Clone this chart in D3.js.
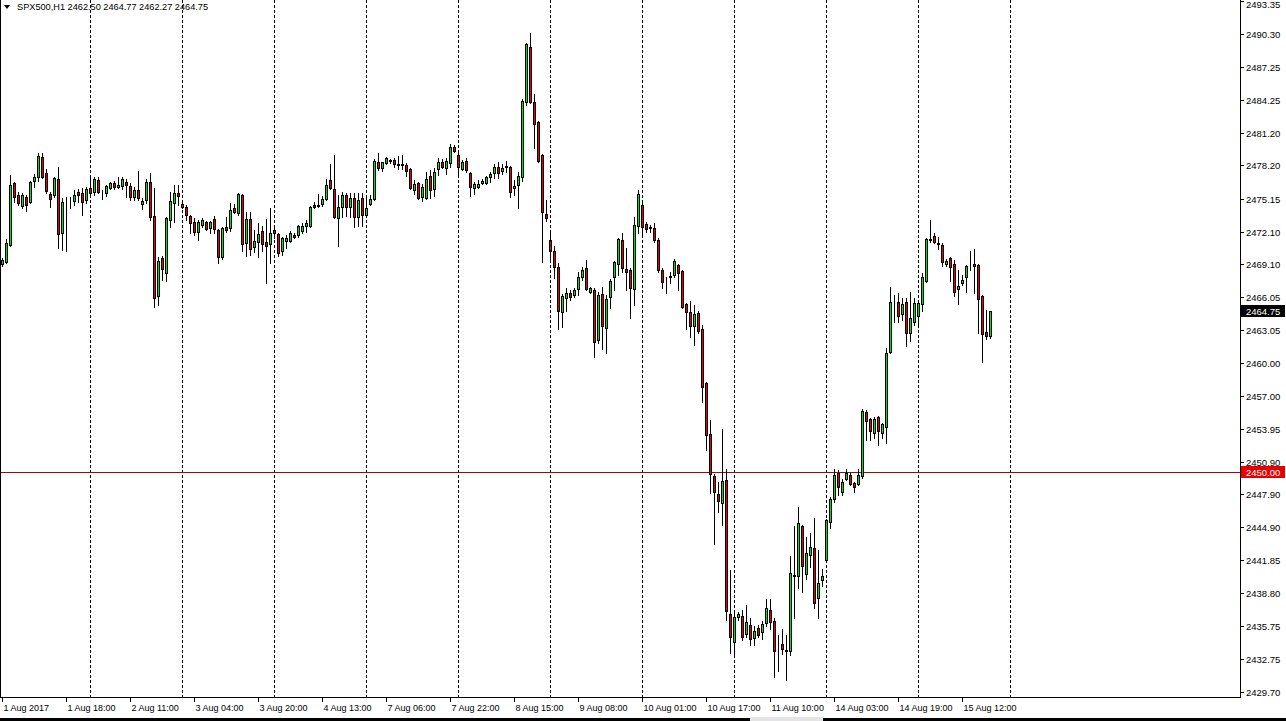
<!DOCTYPE html>
<html><head><meta charset="utf-8">
<script src="https://cdn.jsdelivr.net/npm/d3@7/dist/d3.min.js"></script>
<style>
body{margin:0;background:#fff;overflow:hidden;}
svg{display:block;font-family:"Liberation Sans",Arial,sans-serif;}
</style>
</head><body>
<svg id="chart" width="1286" height="721"></svg>
<script>
// ---- data (SPX500, H1) ----
const openP = [2469.12,2469.31,2470.87,2476.58,2475.47,2474.46,2475.29,2474.83,2476.77,2477.13,2478.97,2477.50,2475.57,2475.47,2476.95,2471.97,2474.92,2474.92,2474.92,2475.75,2475.66,2475.01,2476.12,2475.75,2476.86,2475.66,2475.66,2476.12,2476.58,2476.21,2476.31,2476.67,2476.31,2475.29,2475.93,2474.65,2475.01,2476.67,2473.54,2466.17,2469.67,2468.29,2473.17,2474.74,2475.66,2474.65,2474.37,2473.54,2472.99,2472.07,2472.72,2472.99,2472.44,2473.27,2472.25,2469.77,2472.53,2472.44,2474.28,2473.82,2475.47,2471.05,2473.27,2470.69,2471.15,2472.16,2471.15,2470.96,2472.25,2471.88,2470.32,2471.24,2471.24,2471.79,2471.79,2472.16,2472.62,2472.62,2474.55,2474.46,2474.65,2475.11,2476.86,2476.03,2473.36,2474.37,2475.47,2474.37,2475.20,2473.45,2475.20,2473.63,2474.65,2475.11,2478.51,2477.96,2478.42,2478.70,2478.70,2478.33,2478.33,2478.24,2477.87,2475.93,2476.58,2475.29,2475.20,2477.22,2476.03,2477.87,2478.51,2477.96,2478.42,2479.89,2479.16,2477.87,2478.61,2477.50,2476.12,2476.21,2476.58,2476.58,2477.13,2477.50,2478.05,2477.68,2478.05,2478.05,2476.12,2476.40,2477.13,2484.04,2489.10,2484.04,2482.20,2479.16,2473.73,2471.33,2470.32,2468.85,2464.70,2465.99,2466.45,2466.27,2466.82,2467.93,2468.75,2466.54,2466.73,2462.12,2466.36,2463.23,2466.08,2467.93,2469.12,2471.33,2468.66,2468.57,2466.82,2472.62,2474.55,2472.81,2472.53,2472.44,2471.33,2468.57,2467.65,2467.93,2468.11,2469.03,2468.48,2465.44,2464.70,2463.41,2464.61,2463.13,2458.16,2453.47,2449.60,2447.94,2447.11,2449.23,2436.89,2434.31,2436.62,2436.71,2435.05,2435.88,2434.68,2435.60,2435.24,2436.06,2437.26,2436.25,2433.85,2434.13,2433.49,2433.49,2440.39,2440.39,2445.00,2440.58,2442.33,2442.97,2438.37,2440.02,2441.86,2445.36,2447.48,2449.87,2448.12,2449.32,2449.69,2448.95,2448.86,2449.60,2455.49,2454.85,2453.56,2455.03,2453.56,2454.11,2461.02,2465.44,2465.62,2464.52,2465.62,2462.77,2463.78,2464.33,2465.44,2467.56,2471.33,2471.70,2471.05,2470.87,2469.12,2469.67,2469.12,2466.82,2467.37,2467.93,2469.12,2469.12,2469.03,2466.17,2462.86,2462.50];
const highP = [2469.67,2471.42,2477.32,2476.65,2475.75,2475.66,2475.47,2476.77,2477.41,2479.34,2479.34,2477.87,2475.75,2477.10,2478.05,2475.20,2475.29,2475.29,2475.93,2476.03,2476.12,2476.21,2477.04,2477.13,2477.13,2475.93,2476.40,2476.67,2476.77,2477.13,2477.13,2476.95,2476.58,2476.21,2477.68,2475.20,2476.95,2477.50,2476.12,2469.77,2469.86,2473.45,2475.75,2476.40,2476.40,2474.83,2474.55,2473.63,2473.36,2473.17,2473.36,2473.08,2473.08,2473.54,2472.35,2472.53,2473.45,2474.74,2474.65,2475.66,2475.57,2473.91,2473.91,2472.25,2472.90,2472.62,2473.27,2474.28,2472.62,2471.97,2471.60,2471.79,2472.16,2471.97,2472.72,2472.90,2473.17,2474.46,2474.83,2475.57,2475.38,2476.95,2478.33,2479.16,2475.47,2475.75,2475.66,2475.66,2475.66,2475.66,2475.66,2475.47,2475.47,2478.79,2479.34,2478.51,2478.97,2478.79,2478.88,2479.07,2479.16,2478.42,2477.96,2476.86,2476.67,2476.49,2477.59,2477.78,2477.96,2478.88,2478.79,2478.88,2480.17,2480.08,2479.34,2478.70,2478.88,2477.59,2476.67,2476.86,2476.95,2477.22,2477.59,2478.33,2478.51,2478.33,2478.61,2478.14,2476.86,2477.59,2484.31,2489.47,2490.39,2484.77,2482.29,2479.25,2475.01,2471.97,2470.78,2469.21,2466.36,2466.95,2466.73,2466.91,2468.38,2468.85,2469.49,2467.01,2466.91,2466.54,2467.01,2466.27,2467.74,2469.40,2471.51,2471.97,2470.59,2468.75,2473.45,2475.93,2474.74,2472.99,2472.72,2472.90,2471.51,2468.75,2467.93,2468.38,2469.58,2469.12,2468.57,2465.53,2465.72,2465.35,2464.79,2463.50,2458.25,2454.76,2449.78,2449.05,2453.93,2450.24,2440.94,2437.08,2437.08,2437.26,2437.72,2436.52,2435.79,2435.88,2436.25,2438.27,2438.27,2436.52,2434.96,2435.51,2434.96,2442.23,2445.00,2446.74,2445.09,2443.98,2444.35,2445.73,2442.78,2441.04,2445.64,2447.67,2450.24,2450.15,2449.32,2450.24,2449.87,2449.05,2450.24,2455.77,2455.68,2454.94,2455.03,2455.12,2454.48,2461.39,2467.01,2466.27,2466.45,2466.00,2465.99,2466.54,2465.99,2465.81,2468.29,2471.51,2473.17,2471.97,2471.60,2471.05,2469.58,2469.77,2469.49,2468.57,2468.11,2469.03,2470.32,2470.50,2469.12,2466.27,2464.88,2464.77];
const lowP = [2468.94,2469.20,2470.78,2474.83,2474.55,2474.28,2474.00,2474.74,2476.21,2476.77,2477.04,2475.66,2474.37,2475.29,2470.59,2470.41,2470.32,2474.28,2474.55,2474.83,2473.63,2474.74,2475.29,2475.47,2475.66,2475.11,2475.38,2476.03,2476.03,2476.12,2476.03,2475.29,2475.01,2475.01,2475.01,2474.19,2474.74,2473.17,2465.17,2465.35,2467.65,2467.56,2472.53,2472.99,2474.55,2474.28,2473.17,2471.97,2471.79,2471.33,2472.53,2472.25,2471.97,2471.97,2469.21,2469.58,2472.07,2472.16,2473.82,2473.63,2470.32,2469.86,2469.95,2470.23,2469.77,2470.32,2467.37,2469.21,2471.51,2469.86,2469.95,2470.59,2471.15,2471.51,2471.60,2471.97,2472.07,2472.53,2474.28,2474.37,2474.46,2475.05,2476.03,2473.36,2470.78,2473.45,2473.54,2473.45,2472.53,2472.62,2472.62,2473.54,2474.55,2475.01,2477.78,2477.68,2478.33,2478.42,2478.05,2477.87,2477.87,2477.22,2476.03,2475.57,2475.11,2474.92,2475.11,2475.20,2475.38,2477.32,2477.96,2477.41,2478.05,2479.43,2477.32,2477.78,2477.59,2475.38,2475.57,2476.12,2476.49,2476.49,2476.67,2477.04,2477.04,2477.41,2477.59,2475.29,2475.47,2474.28,2476.77,2483.76,2483.95,2479.80,2478.51,2469.31,2473.08,2469.40,2467.83,2463.13,2463.32,2464.79,2465.81,2466.08,2466.27,2467.65,2466.73,2466.45,2460.56,2461.85,2461.29,2460.93,2465.07,2466.73,2468.11,2468.38,2466.73,2464.15,2465.35,2471.97,2471.79,2472.07,2472.07,2471.15,2468.38,2466.91,2466.45,2467.37,2467.93,2466.73,2465.07,2463.13,2462.40,2461.66,2462.77,2456.41,2451.99,2448.03,2443.34,2446.29,2445.09,2436.34,2433.30,2433.03,2436.34,2434.50,2434.77,2434.04,2434.04,2434.77,2434.59,2435.79,2435.51,2431.09,2431.65,2433.21,2430.82,2433.12,2436.52,2439.29,2438.92,2440.12,2441.22,2437.44,2436.52,2439.47,2441.77,2444.81,2447.21,2447.85,2447.85,2449.23,2448.77,2448.12,2448.77,2449.41,2452.91,2452.91,2453.10,2452.45,2453.10,2452.64,2460.93,2463.78,2463.78,2463.96,2461.57,2462.03,2463.50,2463.50,2464.79,2467.47,2471.15,2471.05,2470.50,2468.94,2468.94,2467.56,2466.17,2465.44,2467.19,2466.54,2468.57,2466.45,2462.77,2460.10,2462.20,2462.27];
const closeP = [2469.49,2471.05,2476.40,2475.29,2474.74,2475.47,2474.55,2476.67,2477.13,2479.07,2477.13,2475.84,2475.11,2477.04,2471.88,2474.83,2474.95,2474.95,2475.47,2475.47,2474.83,2476.03,2475.66,2476.95,2475.75,2475.70,2476.31,2476.58,2476.21,2476.40,2476.95,2476.40,2475.29,2475.93,2475.20,2474.92,2476.67,2473.45,2465.99,2469.40,2468.66,2473.36,2474.92,2475.66,2475.38,2474.37,2473.63,2472.90,2472.07,2472.99,2473.17,2472.35,2472.99,2472.35,2469.77,2472.44,2472.25,2474.09,2473.91,2475.57,2470.96,2473.27,2470.50,2471.24,2471.88,2470.96,2470.78,2471.97,2471.97,2470.13,2471.51,2471.51,2471.97,2471.60,2472.62,2472.62,2472.90,2474.37,2474.37,2474.55,2475.11,2476.40,2476.12,2473.45,2474.37,2475.47,2474.37,2475.20,2473.45,2475.01,2473.63,2474.28,2475.11,2478.61,2477.96,2478.51,2478.88,2478.61,2478.33,2478.24,2478.24,2477.68,2476.12,2476.49,2475.20,2476.21,2476.95,2475.93,2477.59,2478.51,2478.05,2478.61,2479.89,2479.52,2478.05,2478.51,2477.78,2476.21,2476.49,2476.49,2476.77,2477.13,2477.41,2478.05,2477.50,2477.96,2478.10,2475.75,2476.31,2477.22,2484.13,2489.38,2484.04,2482.01,2478.61,2473.91,2473.36,2470.32,2468.85,2464.79,2466.17,2466.45,2466.08,2466.73,2467.93,2468.57,2466.82,2466.91,2461.94,2466.27,2463.41,2465.90,2467.56,2469.31,2471.42,2468.75,2468.38,2466.91,2472.72,2475.57,2472.53,2472.35,2472.44,2471.33,2468.57,2467.47,2467.60,2468.01,2469.40,2468.29,2465.17,2464.70,2463.41,2464.52,2462.95,2457.79,2453.37,2449.78,2448.12,2447.30,2449.14,2437.17,2434.77,2436.62,2436.89,2434.77,2436.16,2434.59,2435.33,2434.96,2435.97,2437.44,2436.16,2433.49,2433.80,2433.67,2433.58,2440.66,2440.43,2445.27,2441.31,2442.52,2443.06,2437.90,2439.75,2440.39,2445.55,2447.48,2449.69,2448.58,2449.05,2449.87,2448.86,2448.58,2449.69,2455.59,2454.67,2453.74,2454.85,2453.74,2454.39,2460.93,2465.62,2465.40,2464.33,2465.44,2462.77,2464.15,2465.53,2465.53,2467.93,2471.42,2471.38,2471.15,2471.00,2469.31,2469.40,2468.85,2466.54,2467.10,2467.65,2468.94,2469.10,2468.94,2465.90,2462.68,2462.50,2464.75];

const priceTicks = [2493.35,2490.30,2487.25,2484.25,2481.20,2478.20,2475.15,2472.10,2469.10,2466.05,2463.05,2460.00,2457.00,2453.95,2450.90,2447.90,2444.90,2441.85,2438.80,2435.75,2432.75,2429.70];
const timeLabels = ["1 Aug 2017","1 Aug 18:00","2 Aug 11:00","3 Aug 04:00","3 Aug 20:00","4 Aug 13:00","7 Aug 06:00","7 Aug 22:00","8 Aug 15:00","9 Aug 08:00","10 Aug 01:00","10 Aug 17:00","11 Aug 10:00","14 Aug 03:00","14 Aug 19:00","15 Aug 12:00"];
const timeBars = [0,16,32,48,64,80,96,112,128,144,160,176,192,208,224,240];
const daySepBars = [22,45,68,91,114,137,160,183,206,229,252];
const symbolTitle = "SPX500,H1";
const levelLine = 2450.00;

// ---- layout ----
const W = 1286, H = 721;
const plotR = 1240, plotB = 697;
const svg = d3.select("#chart");
const n = openP.length;

const x = d3.scaleLinear().domain([0, 1]).range([2.5, 6.5]);   // 4px per bar
const y = d3.scaleLinear().domain([2429.70, 2490.30]).range([692, 34]);

svg.append("rect").attr("width", W).attr("height", H).attr("fill", "#fff");

const plot = svg.append("g");
plot.append("clipPath").attr("id","clip").append("rect").attr("x",0).attr("y",0).attr("width",plotR).attr("height",plotB);

// vertical dashed day separators
const grid = plot.append("g").attr("clip-path","url(#clip)");
daySepBars.forEach(b => {
  const gx = Math.floor(x(b)) + 0.5;
  grid.append("line").attr("x1",gx).attr("x2",gx).attr("y1",0).attr("y2",plotB)
    .attr("stroke","#000").attr("stroke-width",1).attr("stroke-dasharray","3,2");
});

// level line at 2450
const ly = Math.round(y(levelLine)) + 0.5;
plot.append("line").attr("x1",0).attr("x2",plotR).attr("y1",ly).attr("y2",ly)
  .attr("stroke","#b00000").attr("stroke-width",1);

// candles
const cg = plot.append("g").attr("clip-path","url(#clip)");
for (let i = 0; i < n; i++) {
  const cx = Math.floor(x(i)) + 0.5;
  const o = openP[i], c = closeP[i], hi = highP[i], lo = lowP[i];
  cg.append("line").attr("x1",cx).attr("x2",cx)
    .attr("y1",Math.round(y(hi))).attr("y2",Math.round(y(lo))+1)
    .attr("stroke","#000").attr("stroke-width",1);
  const top = Math.round(y(Math.max(o,c))), bot = Math.round(y(Math.min(o,c)));
  const up = c >= o;
  cg.append("rect").attr("x",cx-1).attr("y",top+0.5).attr("width",2).attr("height",Math.max(bot-top,0))
    .attr("fill", up ? "#00e600" : "#e60000").attr("stroke","#000").attr("stroke-width",1);
}

// frame
svg.append("line").attr("x1",0.5).attr("x2",0.5).attr("y1",0).attr("y2",plotB).attr("stroke","#000");
svg.append("line").attr("x1",plotR+0.5).attr("x2",plotR+0.5).attr("y1",0).attr("y2",plotB+1).attr("stroke","#000");
svg.append("line").attr("x1",0).attr("x2",plotR+1).attr("y1",plotB+0.5).attr("y2",plotB+0.5).attr("stroke","#000");

// price axis
const pa = svg.append("g").attr("font-size","9.5px").attr("fill","#000");
priceTicks.forEach(p => {
  const ty = Math.round(y(p)) + 0.5;
  pa.append("line").attr("x1",plotR).attr("x2",plotR+4).attr("y1",ty).attr("y2",ty).attr("stroke","#000");
  pa.append("text").attr("x",plotR+6).attr("y",Math.max(ty,5)).attr("dy","0.35em").text(p.toFixed(2));
});
// price tags
function tag(p, bg) {
  const ty = Math.round(y(p));
  svg.append("rect").attr("x",plotR+1).attr("y",ty-6).attr("width",44).attr("height",12).attr("fill",bg);
  svg.append("text").attr("x",plotR+6).attr("y",ty+0.5).attr("dy","0.35em").attr("font-size","9.5px").attr("fill","#fff").text(p.toFixed(2));
}
tag(closeP[n-1], "#000");
tag(levelLine, "#e60000");

// time axis
const ta = svg.append("g").attr("font-size","9px").attr("fill","#000");
timeBars.forEach((b, k) => {
  const gx = Math.floor(x(b)) + 0.5;
  ta.append("line").attr("x1",gx).attr("x2",gx).attr("y1",plotB).attr("y2",plotB+5).attr("stroke","#000");
  ta.append("text").attr("x",gx+1).attr("y",708).attr("dy","0.35em").text(timeLabels[k]);
});

// bottom tab strip
svg.append("rect").attr("x",0).attr("y",718).attr("width",750).attr("height",3).attr("fill","#000");
svg.append("rect").attr("x",750).attr("y",717).attr("width",73).attr("height",4).attr("fill","#e4e4e4");
svg.append("rect").attr("x",823).attr("y",718).attr("width",463).attr("height",3).attr("fill","#000");

// title
const t = svg.append("g").attr("font-size","9.2px").attr("fill","#000");
t.append("path").attr("d","M4,5 L10,5 L7,9 Z").attr("fill","#000");
t.append("text").attr("x",17).attr("y",7).attr("dy","0.35em")
  .text(symbolTitle + "  " + [openP[n-1],highP[n-1],lowP[n-1],closeP[n-1]].map(v=>v.toFixed(2)).join(" "));
</script>
</body></html>
